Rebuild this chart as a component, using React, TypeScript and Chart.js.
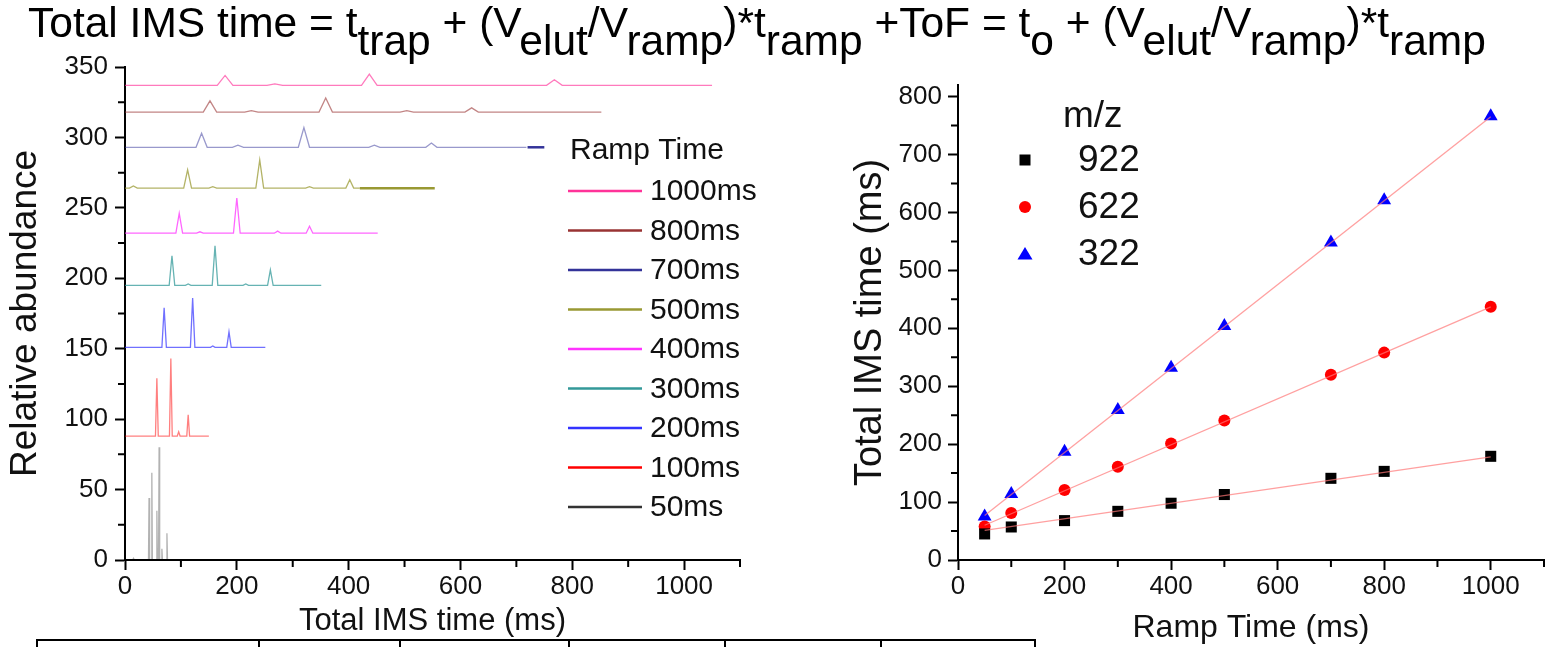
import React, { useEffect, useRef } from "react";
import { Chart, registerables } from "chart.js";

Chart.register(...registerables);

const FONT = "'Liberation Sans', Arial, Helvetica, sans-serif";

// ---------------- Left panel: stacked spectra ----------------
const rampLabels = ["1000ms", "800ms", "700ms", "500ms", "400ms", "300ms", "200ms", "100ms", "50ms"];
const traceBaselines = [337, 318, 293, 264, 232, 195, 151, 88, 0];
const traceEnds = [1050, 852, 718, 420, 452, 351, 251, 150, 84];
const peakHalfWidths = [14, 12, 10, 7, 6, 5, 4, 2.5, 1];
const peaks1000ms = [[179, 7], [268, 1], [437, 8], [768, 4]];
const peaks800ms = [[152, 8], [226, 1], [359, 10], [504, 1], [620, 3]];
const peaks700ms = [[137, 10], [202, 1.5], [320, 14], [446, 1.5], [548, 3]];
const peaks500ms = [[15, 1.5], [112, 13], [157, 1], [241, 20], [330, 1], [402, 6]];
const peaks400ms = [[97, 14], [134, 1], [200, 25], [273, 1.5], [330, 5]];
const peaks300ms = [[84, 21], [113, 1], [161, 28], [216, 1], [260, 11]];
const peaks200ms = [[70, 28], [121, 35], [157, 1], [186, 11]];
const peaks100ms = [[57, 41], [82, 55], [96, 3], [113, 15]];
const peaks50ms = [[15, 1], [43, 44], [48, 62], [57, 35], [61, 80], [66, 8], [75, 19]];
const tracePeaks = [peaks1000ms, peaks800ms, peaks700ms, peaks500ms, peaks400ms, peaks300ms, peaks200ms, peaks100ms, peaks50ms];
const tail500ms = [420, 554];
const tail700ms = [720, 750];

const leftXTicksMinor = [100, 300, 500, 700, 900, 1100];
const leftYTicksMinor = [25, 75, 125, 175, 225, 275, 325];

// styles
const rampColors = ["#ff3399", "#993333", "#333399", "#999933", "#ff33ff", "#339999", "#3333ff", "#ff0000", "#333333"];
const traceColors = [
  "rgba(255,51,153,0.65)",
  "rgba(153,51,51,0.6)",
  "rgba(51,51,153,0.5)",
  "rgba(153,153,51,0.75)",
  "rgba(255,51,255,0.75)",
  "rgba(51,153,153,0.75)",
  "rgba(51,51,255,0.7)",
  "rgba(255,0,0,0.5)",
  "rgba(0,0,0,0.3)",
];

// ---------------- Right panel: linear fits ----------------
const rampTimes = [50, 100, 200, 300, 400, 500, 700, 800, 1000];
const mz922 = [45, 57, 68, 84, 98, 113, 141, 153, 179];
const mz622 = [58, 81, 121, 161, 201, 241, 320, 358, 437];
const mz322 = [75, 114, 187, 259, 332, 404, 548, 621, 766];
const fitRange = [50, 1000];
const fit922 = [51, 178];
const fit622 = [60, 437];
const fit322 = [77, 765];
const mzLabels = ["922", "622", "322"];
const rightXTicksMinor = [100, 300, 500, 700, 900, 1100];
const rightYTicksMinor = [50, 150, 250, 350, 450, 550, 650, 750];

function buildTrace(base: number, end: number, peaks: number[][], w: number) {
  const pts: { x: number; y: number }[] = [{ x: 0, y: base }];
  for (const [p, h] of peaks) {
    pts.push({ x: p - w, y: base }, { x: p, y: base + h }, { x: p + w, y: base });
  }
  pts.push({ x: end, y: base });
  return pts;
}

const minorTicksPlugin = {
  id: "minorTicks",
  afterDraw(chart: any, _args: any, opts: any) {
    const ctx = chart.ctx;
    ctx.save();
    ctx.strokeStyle = "#000";
    ctx.lineWidth = 2;
    for (const item of opts.items || []) {
      const scale = chart.scales[item.axis];
      ctx.beginPath();
      for (const v of item.values) {
        const p = scale.getPixelForValue(v);
        if (scale.isHorizontal()) {
          ctx.moveTo(p, scale.top);
          ctx.lineTo(p, scale.top + item.length);
        } else {
          ctx.moveTo(scale.right - item.length, p);
          ctx.lineTo(scale.right, p);
        }
      }
      ctx.stroke();
    }
    ctx.restore();
  },
};

const rampLegendPlugin = {
  id: "rampLegend",
  afterDraw(chart: any, _args: any, opts: any) {
    const ctx = chart.ctx;
    ctx.save();
    ctx.font = `30px ${FONT}`;
    ctx.fillStyle = "#111";
    ctx.textBaseline = "middle";
    ctx.fillText("Ramp Time", opts.x + 2, opts.titleY);
    rampLabels.forEach((lab, i) => {
      const y = opts.y0 + i * opts.dy;
      ctx.strokeStyle = rampColors[i];
      ctx.lineWidth = 2.5;
      ctx.beginPath();
      ctx.moveTo(opts.x, y);
      ctx.lineTo(opts.x + 74, y);
      ctx.stroke();
      ctx.fillText(lab, opts.x + 82, y + 1);
    });
    ctx.restore();
  },
};

const mzLegendPlugin = {
  id: "mzLegend",
  afterDraw(chart: any, _args: any, opts: any) {
    const ctx = chart.ctx;
    ctx.save();
    ctx.font = `37px ${FONT}`;
    ctx.fillStyle = "#111";
    ctx.textBaseline = "middle";
    ctx.fillText("m/z", opts.textX - 15, opts.titleY);
    const cols = ["#000000", "#ff0000", "#0000ff"];
    mzLabels.forEach((lab, i) => {
      const y = opts.y0 + i * opts.dy;
      const x = opts.markerX;
      ctx.fillStyle = cols[i];
      ctx.beginPath();
      if (i === 0) ctx.rect(x - 5.5, y - 5.5, 11, 11);
      else if (i === 1) ctx.arc(x, y, 6, 0, Math.PI * 2);
      else {
        ctx.moveTo(x, y - 7);
        ctx.lineTo(x + 7.5, y + 5.5);
        ctx.lineTo(x - 7.5, y + 5.5);
        ctx.closePath();
      }
      ctx.fill();
      ctx.fillStyle = "#111";
      ctx.fillText(lab, opts.textX, y + 1);
    });
    ctx.restore();
  },
};

const plainNumber = (v: any) => String(v);

function axisCommon(fontSize: number) {
  return {
    grid: { display: true, drawOnChartArea: false, drawTicks: true, tickLength: 10, tickColor: "#000", tickWidth: 2 },
    border: { display: true, color: "#000", width: 2 },
    ticks: { color: "#111", font: { family: FONT, size: fontSize }, callback: plainNumber },
  };
}

function leftConfig(): any {
  const datasets: any[] = rampLabels.map((lab, i) => ({
    label: lab,
    data: buildTrace(traceBaselines[i], traceEnds[i], tracePeaks[i], peakHalfWidths[i]),
    borderColor: traceColors[i],
    borderWidth: 1.3,
    pointRadius: 0,
    tension: 0,
    fill: false,
  }));
  datasets.push({
    label: "500ms tail",
    data: tail500ms.map((x) => ({ x, y: traceBaselines[3] })),
    borderColor: rampColors[3],
    borderWidth: 2.5,
    pointRadius: 0,
  });
  datasets.push({
    label: "700ms tail",
    data: tail700ms.map((x) => ({ x, y: traceBaselines[2] })),
    borderColor: rampColors[2],
    borderWidth: 2.5,
    pointRadius: 0,
  });
  const xc = axisCommon(26);
  const yc = axisCommon(26);
  return {
    type: "line",
    data: { datasets },
    plugins: [minorTicksPlugin, rampLegendPlugin],
    options: {
      responsive: false,
      animation: false,
      layout: { padding: { top: 27, right: 30, left: 0, bottom: 0 } },
      plugins: {
        legend: { display: false },
        tooltip: { enabled: false },
        minorTicks: {
          items: [
            { axis: "x", values: leftXTicksMinor, length: 7 },
            { axis: "y", values: leftYTicksMinor, length: 7 },
          ],
        },
        rampLegend: { x: 568, titleY: 111, y0: 151, dy: 39.5 },
      },
      scales: {
        x: {
          type: "linear",
          min: 0,
          max: 1100,
          ...xc,
          ticks: { ...xc.ticks, stepSize: 200, includeBounds: false, padding: 1, maxRotation: 0, autoSkip: false },
          title: { display: true, text: "Total IMS time (ms)", color: "#111", font: { family: FONT, size: 31 }, padding: { top: 0, bottom: 7 } },
          afterFit: (s: any) => { s.height = 87; },
        },
        y: {
          type: "linear",
          min: 0,
          max: 350,
          ...yc,
          ticks: { ...yc.ticks, stepSize: 50, padding: 7, autoSkip: false },
          title: { display: true, text: "Relative abundance", color: "#111", font: { family: FONT, size: 37 }, padding: { top: 4, bottom: 0 } },
          afterFit: (s: any) => { s.width = 125; },
        },
      },
    },
  };
}

function rightConfig(): any {
  const pts = (ys: number[]) => rampTimes.map((x, i) => ({ x, y: ys[i] }));
  const fit = (ys: number[]) => fitRange.map((x, i) => ({ x, y: ys[i] }));
  const fitStyle = { borderColor: "rgba(255,120,120,0.7)", borderWidth: 1.3, pointRadius: 0, showLine: true, tension: 0 };
  const xc = axisCommon(26);
  const yc = axisCommon(26);
  return {
    type: "scatter",
    data: {
      datasets: [
        { label: "fit 922", data: fit(fit922), ...fitStyle },
        { label: "fit 622", data: fit(fit622), ...fitStyle },
        { label: "fit 322", data: fit(fit322), ...fitStyle },
        { label: "922", data: pts(mz922), pointStyle: "rect", pointRadius: 7.8, backgroundColor: "#000", borderColor: "#000", borderWidth: 0 },
        { label: "622", data: pts(mz622), pointStyle: "circle", pointRadius: 6, backgroundColor: "#ff0000", borderColor: "#ff0000", borderWidth: 0 },
        { label: "322", data: pts(mz322), pointStyle: "triangle", pointRadius: 8, backgroundColor: "#0000ff", borderColor: "#0000ff", borderWidth: 0 },
      ],
    },
    plugins: [minorTicksPlugin, mzLegendPlugin],
    options: {
      responsive: false,
      animation: false,
      layout: { padding: { top: 45, right: 3, left: 0, bottom: 0 } },
      plugins: {
        legend: { display: false },
        tooltip: { enabled: false },
        minorTicks: {
          items: [
            { axis: "x", values: rightXTicksMinor, length: 7 },
            { axis: "y", values: rightYTicksMinor, length: 7 },
          ],
        },
        mzLegend: { markerX: 185, textX: 238, titleY: 77, y0: 120, dy: 47 },
      },
      scales: {
        x: {
          type: "linear",
          min: 0,
          max: 1100,
          ...xc,
          ticks: { ...xc.ticks, stepSize: 200, includeBounds: false, padding: 1, maxRotation: 0, autoSkip: false },
          title: { display: true, text: "Ramp Time (ms)", color: "#111", font: { family: FONT, size: 32 }, padding: { top: 0, bottom: 0 } },
          afterFit: (s: any) => { s.height = 87; },
        },
        y: {
          type: "linear",
          min: 0,
          max: 820,
          ...yc,
          ticks: { ...yc.ticks, stepSize: 100, includeBounds: false, padding: 6, autoSkip: false },
          title: { display: true, text: "Total IMS time (ms)", color: "#111", font: { family: FONT, size: 38 }, padding: { top: 8, bottom: 0 } },
          afterFit: (s: any) => { s.width = 118; },
        },
      },
    },
  };
}

function ChartCanvas(props: { left: number; top: number; width: number; height: number; make: () => any }) {
  const ref = useRef<HTMLCanvasElement | null>(null);
  useEffect(() => {
    if (!ref.current) return;
    const chart = new Chart(ref.current, props.make());
    return () => chart.destroy();
  }, []);
  return (
    <canvas
      ref={ref}
      width={props.width}
      height={props.height}
      style={{ position: "absolute", left: props.left, top: props.top, width: props.width, height: props.height }}
    />
  );
}

function Sub(props: { children: any }) {
  return <span style={{ position: "relative", top: 18 }}>{props.children}</span>;
}

const tableDividers = [37, 259, 400, 569, 725, 881, 1035];

export default function App() {
  return (
    <div style={{ position: "fixed", left: 0, top: 0, width: 1552, height: 647, background: "#fff", overflow: "hidden" }}>
      <ChartCanvas left={0} top={40} width={770} height={607} make={leftConfig} />
      <ChartCanvas left={840} top={40} width={712} height={607} make={rightConfig} />
      <div
        style={{
          position: "absolute",
          left: 28,
          top: 2,
          fontFamily: FONT,
          fontSize: 42.5,
          lineHeight: 1,
          whiteSpace: "nowrap",
          color: "#000",
        }}
      >
        Total IMS time = t<Sub>trap</Sub> + (V<Sub>elut</Sub>/V<Sub>ramp</Sub>)*t<Sub>ramp</Sub> +ToF = t<Sub>o</Sub> + (V
        <Sub>elut</Sub>/V<Sub>ramp</Sub>)*t<Sub>ramp</Sub>
      </div>
      <div style={{ position: "absolute", left: 37, top: 639, width: 998, height: 0, borderTop: "2px solid #000" }} />
      {tableDividers.map((x) => (
        <div key={x} style={{ position: "absolute", left: x - 1, top: 639, width: 0, height: 10, borderLeft: "2px solid #000" }} />
      ))}
    </div>
  );
}
